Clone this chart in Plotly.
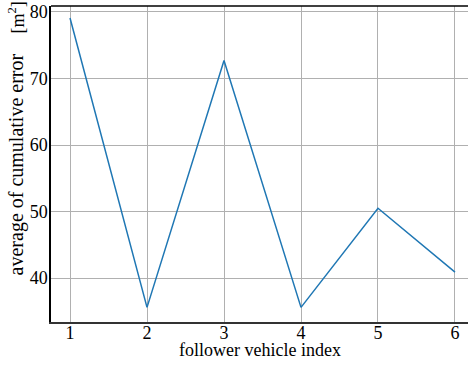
import plotly.graph_objects as go

follower_index = [1, 2, 3, 4, 5, 6]
avg_cum_error = [79.1, 35.6, 72.7, 35.6, 50.5, 40.9]
x_ticks = [1, 2, 3, 4, 5, 6]
y_ticks = [40, 50, 60, 70, 80]

FONT = "Liberation Serif, DejaVu Serif, serif"

fig = go.Figure()
fig.add_trace(go.Scatter(x=follower_index, y=avg_cum_error, mode="lines",
                         line=dict(color="#1f77b4", width=1.5)))

fig.update_layout(
    width=468, height=366,
    margin=dict(l=51, r=0, t=6, b=44),
    paper_bgcolor="white", plot_bgcolor="white",
    showlegend=False,
    font=dict(family=FONT, size=18, color="black"),
    xaxis=dict(range=[0.753, 6.169], tickvals=x_ticks, showgrid=True,
               gridcolor="#b0b0b0", gridwidth=1, zeroline=False,
               showline=True, linecolor="#333333", linewidth=1.5, mirror=False,
               ticks="", ticklen=0, ticklabelstandoff=-6,
               tickfont=dict(family=FONT, size=18)),
    yaxis=dict(range=[33.4, 80.9], tickvals=y_ticks, showgrid=True,
               gridcolor="#b0b0b0", gridwidth=1, zeroline=False,
               showline=True, linecolor="black", linewidth=1.5,
               ticks="", ticklen=0, ticklabelstandoff=-2,
               tickfont=dict(family=FONT, size=18)),
)
fig.add_shape(type="line", xref="paper", yref="paper", x0=0, x1=1, y0=1, y1=1,
              line=dict(color="black", width=1.5))
fig.add_annotation(text="follower vehicle index", xref="paper", yref="paper",
                   x=0.5, y=-0.09, xanchor="center", yanchor="middle",
                   showarrow=False, font=dict(family=FONT, size=18))
fig.add_annotation(text="average of cumulative error", xref="paper", yref="paper",
                   x=-0.083, y=0.5, xanchor="center", yanchor="middle",
                   textangle=-90, showarrow=False,
                   font=dict(family=FONT, size=20))
fig.add_annotation(text="[m<sup>2</sup>]", xref="paper", yref="paper",
                   x=-0.082, y=1.02, xanchor="center", yanchor="top",
                   textangle=-90, showarrow=False,
                   font=dict(family=FONT, size=18))

fig.write_html("out.html")
